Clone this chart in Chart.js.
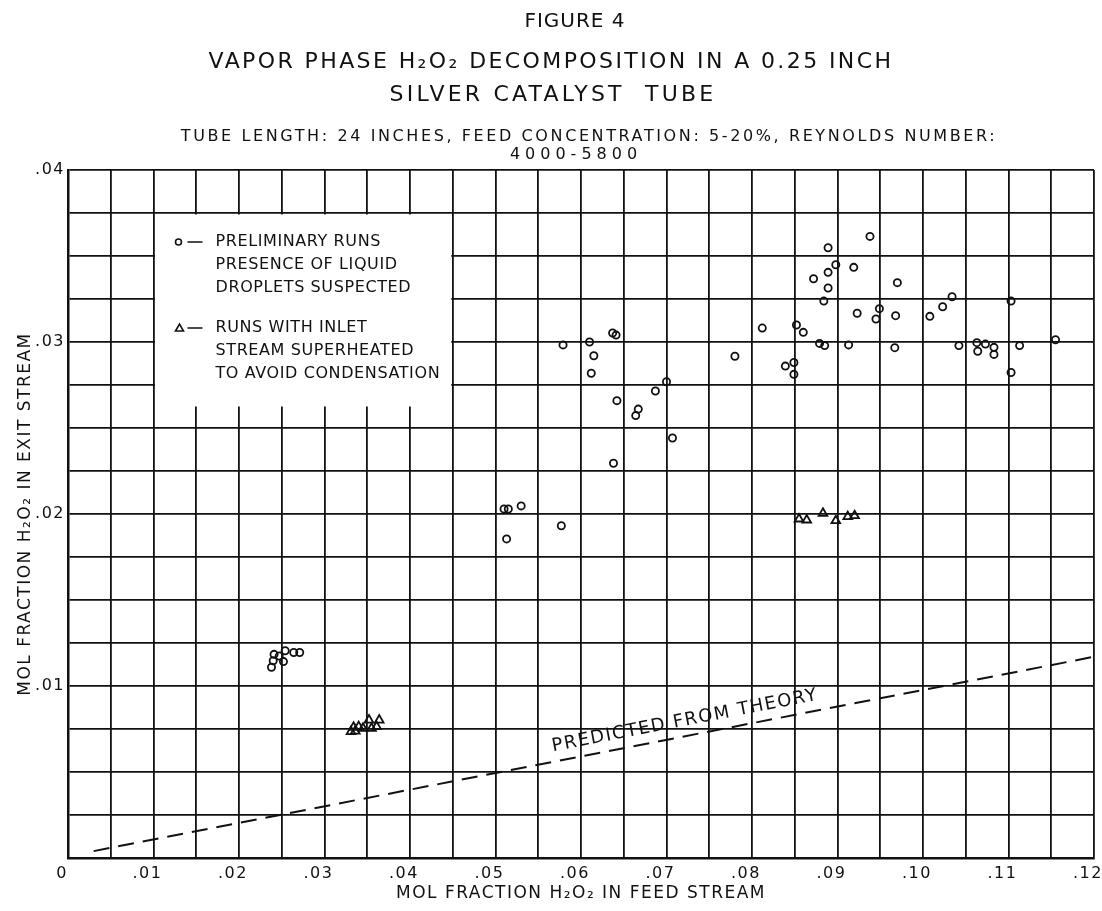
<!DOCTYPE html>
<html>
<head>
<meta charset="utf-8">
<script src="https://cdn.jsdelivr.net/npm/chart.js@4.4.1/dist/chart.umd.min.js"></script>
<style>
  html, body { margin: 0; padding: 0; background: #fff; }
</style>
</head>
<body>
<canvas id="fig4" width="1102" height="911"></canvas>
<script>
// preliminary runs - presence of liquid droplets suspected (circles)
const prelimX = [
    0.0238, 0.0240, 0.0241, 0.0247, 0.0252, 0.0254, 0.0264, 0.0271,
    0.0510, 0.0515, 0.0530, 0.0577, 0.0513,
    0.0579, 0.0610, 0.0637, 0.0641, 0.0615, 0.0612, 0.0700, 0.0687, 0.0642, 0.0667, 0.0664, 0.0707, 0.0638,
    0.0780, 0.0812, 0.0852, 0.0860, 0.0839, 0.0849, 0.0849, 0.0879, 0.0885, 0.0884, 0.0889, 0.0872,
    0.0889, 0.0898, 0.0889, 0.0938, 0.0919, 0.0923, 0.0913, 0.0949, 0.0945, 0.0970, 0.0968, 0.0967,
    0.1008, 0.1023, 0.1034, 0.1042, 0.1063, 0.1064, 0.1073, 0.1083, 0.1083, 0.1103, 0.1103, 0.1113, 0.1155
];
const prelimY = [
    0.01109, 0.01147, 0.01184, 0.01174, 0.01142, 0.01205, 0.01195, 0.01195,
    0.02029, 0.02029, 0.02047, 0.01932, 0.01855,
    0.02983, 0.03000, 0.03052, 0.03040, 0.02920, 0.02818, 0.02769, 0.02715, 0.02659, 0.02610, 0.02572, 0.02442, 0.02295,
    0.02917, 0.03081, 0.03099, 0.03056, 0.02860, 0.02881, 0.02812, 0.02992, 0.02979, 0.03238, 0.03314, 0.03368,
    0.03405, 0.03449, 0.03548, 0.03614, 0.03434, 0.03167, 0.02983, 0.03194, 0.03134, 0.03345, 0.03153, 0.02967,
    0.03149, 0.03205, 0.03263, 0.02979, 0.02996, 0.02946, 0.02988, 0.02969, 0.02928, 0.03238, 0.02823, 0.02979, 0.03013
];

// runs with inlet stream superheated (triangles)
const superX = [0.0331, 0.0334, 0.0336, 0.0340, 0.0345, 0.0352, 0.0355, 0.0361, 0.0364,
                0.0855, 0.0864, 0.0883, 0.0898, 0.0912, 0.0920];
const superY = [0.00735, 0.00760, 0.00738, 0.00764, 0.00754, 0.00802, 0.00754, 0.00764, 0.00802,
                0.01971, 0.01965, 0.02004, 0.01961, 0.01985, 0.01990];

// predicted from theory (dashed line)
const theoryX = [0.003, 0.12];
const theoryY = [0.0004, 0.0117];

const xTickLabels = ['0', '.01', '.02', '.03', '.04', '.05', '.06', '.07', '.08', '.09', '.10', '.11', '.12'];
const yTickLabels = ['', '.01', '.02', '.03', '.04'];

const titleLines = ['FIGURE 4', 'VAPOR PHASE H\u2082O\u2082 DECOMPOSITION IN A 0.25 INCH', 'SILVER CATALYST  TUBE'];
const subtitleLines = ['TUBE LENGTH: 24 INCHES, FEED CONCENTRATION: 5-20%, REYNOLDS NUMBER:', '4000-5800'];
const legendLines1 = ['PRELIMINARY RUNS', 'PRESENCE OF LIQUID', 'DROPLETS SUSPECTED'];
const legendLines2 = ['RUNS WITH INLET', 'STREAM SUPERHEATED', 'TO AVOID CONDENSATION'];

const FONT = "'DejaVu Sans', Verdana, sans-serif";
const INK = '#111';

function pts(xs, ys) {
    return xs.map((v, i) => ({x: v, y: ys[i]}));
}

function spacedText(ctx, text, x, y, size, spacing) {
    ctx.save();
    ctx.font = size + 'px ' + FONT;
    ctx.letterSpacing = spacing + 'px';
    ctx.fillText(text, x, y);
    ctx.restore();
}

// hand lettering is wide, so every label gets a little tracking
const lettering = {
    id: 'lettering',
    beforeDraw(chart) {
        chart.ctx.letterSpacing = '1.5px';
    },
    afterDraw(chart) {
        const {ctx, chartArea} = chart;
        const cx = (chartArea.left + chartArea.right) / 2;
        ctx.save();
        ctx.fillStyle = INK;
        ctx.textAlign = 'center';
        ctx.textBaseline = 'middle';
        spacedText(ctx, titleLines[0], cx - 6, 22, 20, 1);
        spacedText(ctx, titleLines[1], cx - 30, 62, 22, 2.4);
        spacedText(ctx, titleLines[2], cx - 28, 95, 22, 3.2);
        spacedText(ctx, subtitleLines[0], cx + 8, 137, 16, 2.6);
        spacedText(ctx, subtitleLines[1], cx - 5, 155, 16, 5);
        ctx.restore();
    }
};

// white note box with the key, plus the label on the theory line
const notes = {
    id: 'notes',
    beforeDatasetsDraw(chart) {
        const {ctx, scales: {x, y}} = chart;
        const left = x.getPixelForValue(0.01);
        const right = x.getPixelForValue(0.045);
        const top = y.getPixelForValue(0.0375);
        const bottom = y.getPixelForValue(0.02625);
        ctx.save();
        ctx.fillStyle = '#fff';
        ctx.fillRect(left + 1.5, top + 1.5, right - left - 3, bottom - top - 1.5);

        ctx.fillStyle = INK;
        ctx.strokeStyle = INK;
        ctx.textBaseline = 'middle';
        const tx = left + 62;
        legendLines1.forEach((t, i) => spacedText(ctx, t, tx, top + 29 + i * 23, 16, 0.6));
        legendLines2.forEach((t, i) => spacedText(ctx, t, tx, top + 115 + i * 23, 16, 0.6));

        ctx.lineWidth = 1.6;
        ctx.beginPath();
        ctx.arc(left + 25, top + 29, 3, 0, Math.PI * 2);
        ctx.stroke();
        ctx.beginPath();
        ctx.moveTo(left + 34, top + 29); ctx.lineTo(left + 49, top + 29);
        ctx.moveTo(left + 34, top + 115); ctx.lineTo(left + 49, top + 115);
        ctx.stroke();
        ctx.beginPath();
        ctx.moveTo(left + 22, top + 118); ctx.lineTo(left + 26, top + 111); ctx.lineTo(left + 30, top + 118);
        ctx.closePath();
        ctx.stroke();
        ctx.restore();
    },
    afterDatasetsDraw(chart) {
        const {ctx, scales: {x, y}} = chart;
        const x0 = x.getPixelForValue(theoryX[0]), y0 = y.getPixelForValue(theoryY[0]);
        const x1 = x.getPixelForValue(theoryX[1]), y1 = y.getPixelForValue(theoryY[1]);
        const ang = Math.atan2(y1 - y0, x1 - x0);
        const mid = 0.0725;
        const my = theoryY[0] + (theoryY[1] - theoryY[0]) * (mid - theoryX[0]) / (theoryX[1] - theoryX[0]);
        ctx.save();
        ctx.translate(x.getPixelForValue(mid), y.getPixelForValue(my));
        ctx.rotate(ang);
        ctx.fillStyle = INK;
        ctx.textAlign = 'center';
        ctx.textBaseline = 'bottom';
        spacedText(ctx, 'PREDICTED FROM THEORY', 0, -6, 18, 1.5);
        ctx.restore();
    }
};

new Chart('fig4', {
    type: 'scatter',
    data: {
        datasets: [
            {
                label: 'Preliminary runs',
                data: pts(prelimX, prelimY),
                pointStyle: 'circle',
                pointRadius: 3.6,
                borderWidth: 1.8,
                borderColor: INK,
                backgroundColor: 'rgba(0,0,0,0)'
            },
            {
                label: 'Superheated inlet',
                data: pts(superX, superY),
                pointStyle: 'triangle',
                pointRadius: 5,
                borderWidth: 1.8,
                borderColor: INK,
                backgroundColor: 'rgba(0,0,0,0)'
            },
            {
                type: 'line',
                label: 'Predicted from theory',
                data: pts(theoryX, theoryY),
                borderColor: INK,
                borderWidth: 2,
                borderDash: [16, 9],
                pointRadius: 0,
                fill: false
            }
        ]
    },
    options: {
        responsive: false,
        animation: false,
        layout: {padding: {left: 0, right: 8, top: 170, bottom: 0}},
        plugins: {
            legend: {display: false},
            tooltip: {enabled: false}
        },
        scales: {
            x: {
                type: 'linear',
                min: 0,
                max: 0.12,
                border: {color: INK, width: 2.5},
                grid: {color: INK, lineWidth: 1.8, drawTicks: false},
                ticks: {
                    stepSize: 0.005,
                    autoSkip: false,
                    maxRotation: 0,
                    padding: 6,
                    labelOffset: -6,
                    color: INK,
                    font: {family: FONT, size: 16},
                    callback: v => {
                        const k = Math.round(v * 200);
                        return k % 2 ? '' : xTickLabels[k / 2];
                    }
                },
                title: {
                    display: true,
                    text: 'MOL FRACTION H\u2082O\u2082 IN FEED STREAM',
                    color: INK,
                    font: {family: FONT, size: 17},
                    padding: {top: 0, bottom: 7}
                },
                afterFit: s => { s.height = 53; s.paddingLeft = 0; s.paddingRight = 0; }
            },
            y: {
                type: 'linear',
                min: 0,
                max: 0.04,
                border: {color: INK, width: 2.5},
                grid: {color: INK, lineWidth: 1.8, drawTicks: false},
                ticks: {
                    stepSize: 0.0025,
                    autoSkip: false,
                    padding: 3,
                    color: INK,
                    font: {family: FONT, size: 16},
                    callback: v => {
                        const k = Math.round(v * 400);
                        return k % 4 ? '' : yTickLabels[k / 4];
                    }
                },
                title: {
                    display: true,
                    text: 'MOL FRACTION H\u2082O\u2082 IN EXIT STREAM',
                    color: INK,
                    font: {family: FONT, size: 17},
                    padding: {top: 15, bottom: 0}
                },
                afterFit: s => { s.width = 68; s.paddingTop = 0; s.paddingBottom = 0; }
            }
        }
    },
    plugins: [lettering, notes]
});
</script>
</body>
</html>
